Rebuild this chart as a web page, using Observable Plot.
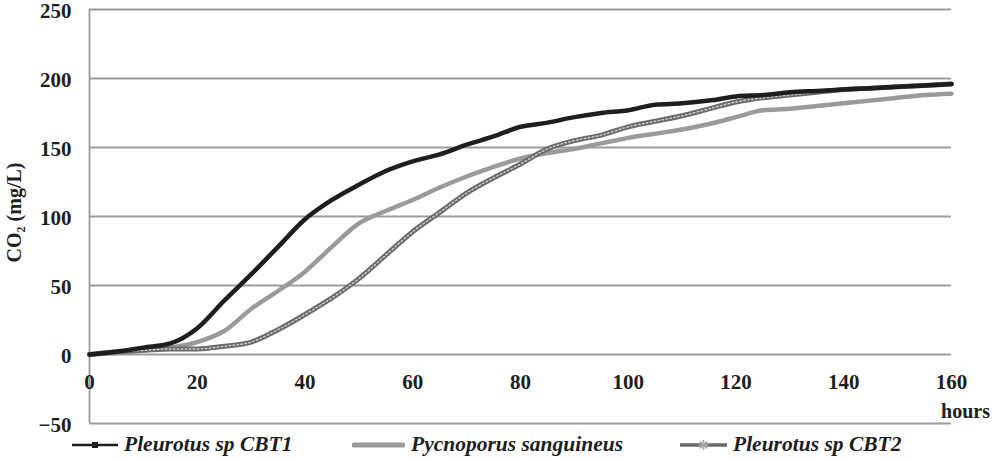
<!DOCTYPE html>
<html>
<head>
<meta charset="utf-8">
<script src="https://cdn.jsdelivr.net/npm/d3@7"></script>
<script src="https://cdn.jsdelivr.net/npm/@observablehq/plot@0.6"></script>
<style>
  html, body { margin: 0; padding: 0; background: #fff; overflow: hidden; }
  #wrap { width: 992px; font-family: "Liberation Serif", "Times New Roman", serif; color: #1e1e1e; }
  #chart svg { overflow: visible; display: block; }
  #legend { position: relative; height: 21px; width: 992px; }
  .item { position: absolute; top: -6px; height: 21px; display: flex; align-items: center; }
  .item span { font-style: italic; font-weight: bold; font-size: 21.5px; margin-left: 6px; white-space: nowrap; }
</style>
</head>
<body>
<div id="wrap">
  <div id="chart"></div>
  <div id="legend"></div>
</div>
<script>
const hours = [0,5,10,15,20,25,30,35,40,45,50,55,60,65,70,75,80,85,90,95,100,105,110,115,120,125,130,135,140,145,150,155,160];
const cbt1  = [0,2,5,8,19,39,58,78,98,112,123,133,140,145,152,158,165,168,172,175,177,181,182,184,187,188,190,191,192,193,194,195,196];
const pycno = [0,1,3,5,9,17,33,46,60,78,95,104,112,121,129,136,142,146,149,153,157,160,163,167,172,177,178,180,182,184,186,188,189];
const cbt2  = [0,2,3,4,4,6,9,18,29,41,55,72,89,103,117,128,138,149,155,159,165,169,173,178,183,186,188,190,192,193,194,195,196];
const seriesNames = ["Pleurotus sp CBT1", "Pycnoporus sanguineus", "Pleurotus sp CBT2"];
const xTicks = [0,20,40,60,80,100,120,140,160];
const yTicks = [-50,0,50,100,150,200,250];

const mk = (vals) => hours.map((h, i) => ({h, v: vals[i]}));
const d1 = mk(cbt1), d2 = mk(pycno), d3 = mk(cbt2);

const chart = Plot.plot({
  width: 992,
  height: 440,
  marginTop: 9,
  marginBottom: 17,
  marginLeft: 89,
  marginRight: 41,
  style: {fontFamily: '"Liberation Serif", "Times New Roman", serif', color: "#1e1e1e", background: "#fff", overflow: "visible"},
  x: {domain: [0, 160]},
  y: {domain: [-50, 250]},
  marks: [
    Plot.ruleY(yTicks, {stroke: "#9c9c9c", strokeWidth: 1.8}),
    Plot.ruleX([0], {stroke: "#9c9c9c", strokeWidth: 1.8}),
    Plot.axisY({ticks: yTicks, tickSize: 0, tickPadding: 18, fontSize: 21, fontWeight: "bold", dy: 2,
      label: null}),
    Plot.text(["CO₂ (mg/L)"], {x: 0, y: 100, dx: -75, dy: -4, rotate: -90, text: d => d, fontSize: 20, fontWeight: "bold", fill: "#1e1e1e"}),
    Plot.axisX({ticks: [], label: null}),
    Plot.text(xTicks, {x: d => d, y: 0, dy: 28, text: d => String(d), fontSize: 21, fontWeight: "bold", fill: "#1e1e1e"}),
    Plot.text(["hours"], {x: 160, y: -50, dx: 14, dy: -12, text: d => d, fontSize: 20, fontWeight: "bold", fill: "#1e1e1e"}),
    Plot.line(d2, {x: "h", y: "v", stroke: "#9a9a9a", strokeWidth: 4.5, curve: "monotone-x"}),
    Plot.line(d3, {x: "h", y: "v", stroke: "#6a6a6a", strokeWidth: 5, curve: "monotone-x"}),
    Plot.line(d3, {x: "h", y: "v", stroke: "#d0d0d0", strokeWidth: 1.4, strokeDasharray: "1.5 2.5", curve: "monotone-x"}),
    Plot.line(d1, {x: "h", y: "v", stroke: "#1e1e1e", strokeWidth: 4.5, curve: "monotone-x"})
  ]
});
document.getElementById("chart").appendChild(chart);

// legend
const legend = document.getElementById("legend");
const swatches = [
  `<svg width="46" height="12"><line x1="0" y1="6" x2="46" y2="6" stroke="#1e1e1e" stroke-width="2.5"/><rect x="20" y="3" width="6" height="6" fill="#1e1e1e"/></svg>`,
  `<svg width="53" height="12"><line x1="2" y1="6" x2="51" y2="6" stroke="#9a9a9a" stroke-width="5" stroke-linecap="round"/></svg>`,
  `<svg width="47" height="12"><line x1="0" y1="6" x2="47" y2="6" stroke="#6a6a6a" stroke-width="3.5"/><path d="M23.5 1 L23.5 11 M18.5 6 L28.5 6 M20 2.5 L27 9.5 M27 2.5 L20 9.5" stroke="#a8a8a8" stroke-width="1.6"/></svg>`
];
const lefts = [72, 352, 680];
seriesNames.forEach((name, i) => {
  const div = document.createElement("div");
  div.className = "item";
  div.style.left = lefts[i] + "px";
  div.innerHTML = swatches[i] + `<span>${name}</span>`;
  legend.appendChild(div);
});
</script>
</body>
</html>
